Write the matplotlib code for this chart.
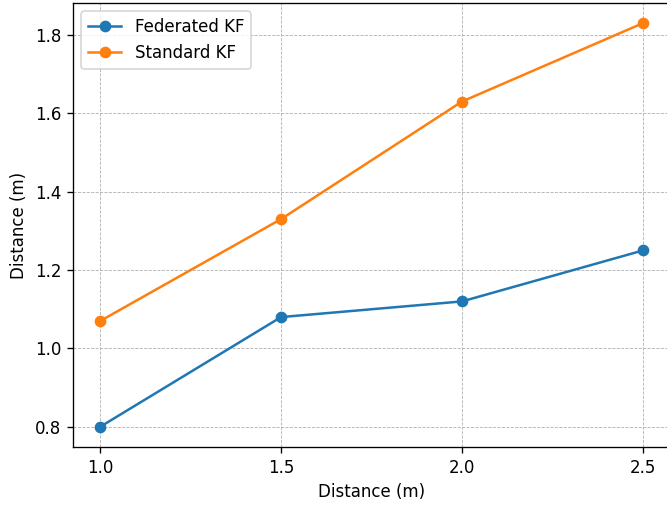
import matplotlib
matplotlib.use('Agg')
import matplotlib.pyplot as plt

distances = [1.0, 1.5, 2.0, 2.5]
federated_kf = [0.80, 1.08, 1.12, 1.25]
standard_kf = [1.07, 1.33, 1.63, 1.83]

# reference looks like it was rendered at 120 dpi
dpi = 120
fig = plt.figure(figsize=(667 / dpi, 506 / dpi), dpi=dpi)
ax = fig.add_axes([73/667, 1 - 447/506, 597/667, (447 - 3)/506])

ax.plot(distances, federated_kf, marker='o', label='Federated KF')
ax.plot(distances, standard_kf, marker='o', label='Standard KF')

ax.set_xlabel('Distance (m)')
ax.set_ylabel('Distance (m)')
ax.set_xticks(distances)
ax.grid(True, linestyle='--', linewidth=0.5)
ax.legend(loc='upper left')

fig.savefig('out.png', dpi=dpi)
